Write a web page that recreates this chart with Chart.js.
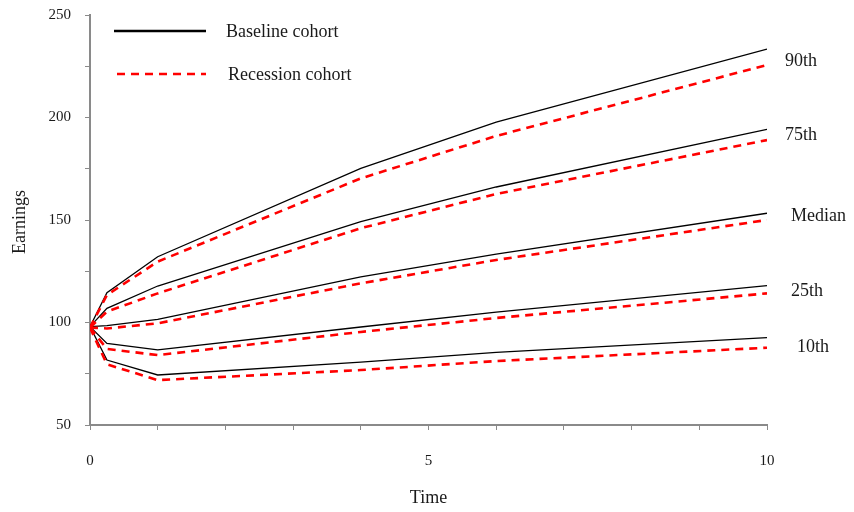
<!DOCTYPE html>
<html>
<head>
<meta charset="utf-8">
<script src="https://cdn.jsdelivr.net/npm/chart.js@4/dist/chart.umd.min.js"></script>
<style>
  html, body { margin: 0; padding: 0; background: #fff; }
  #wrap { width: 854px; height: 512px; }
</style>
</head>
<body>
<div id="wrap"><canvas id="c" width="854" height="512"></canvas></div>
<script>
// Years since labour-market entry
const times = [0, 0.25, 1, 4, 6, 10];

// Baseline cohort earnings by percentile
const base10 = [98, 81.7, 74.4, 80.7, 85.4, 92.6];
const base25 = [98, 89.8, 86.6, 97.8, 105.1, 118.0];
const base50 = [98, 98.5, 101.5, 122.3, 133.4, 153.3];
const base75 = [98, 106.9, 117.8, 149.2, 166.1, 194.2];
const base90 = [98, 114.5, 132.1, 175.2, 197.8, 233.4];

// Recession cohort earnings by percentile
const rec10 = [97.5, 79.6, 71.9, 76.8, 81.2, 87.7];
const rec25 = [97.5, 87.1, 84.1, 95.4, 102.2, 114.2];
const rec50 = [97.5, 97.1, 99.6, 119.1, 130.5, 150.0];
const rec75 = [97.5, 105.3, 114.2, 146.0, 162.7, 189.0];
const rec90 = [97.5, 113.4, 129.7, 170.3, 191.0, 225.6];

const percentileNames = ['10th', '25th', 'Median', '75th', '90th'];
const cohortNames = ['Baseline cohort', 'Recession cohort'];

const yMin = 50, yMax = 250, yMinorStep = 25, yLabelStep = 50;
const xMin = 0, xMax = 10, xMinorStep = 1, xLabelStep = 5;

const SERIF = '"Liberation Serif", "DejaVu Serif", serif';
const AXIS_GREY = '#8a8a8a';

const toPoints = vals => vals.map((v, i) => ({ x: times[i], y: v }));

const baseSeries = [base10, base25, base50, base75, base90];
const recSeries = [rec10, rec25, rec50, rec75, rec90];

const baseStyle = { borderColor: '#000', borderWidth: 1.3, borderDash: [] };
const recStyle = { borderColor: '#ff0000', borderWidth: 2.6, borderDash: [8, 6] };

const datasets = [];
baseSeries.forEach((s, i) => datasets.push(Object.assign({
  label: cohortNames[0] + ' ' + percentileNames[i],
  data: toPoints(s), pointRadius: 0, tension: 0, fill: false, order: 1
}, baseStyle)));
recSeries.forEach((s, i) => datasets.push(Object.assign({
  label: cohortNames[1] + ' ' + percentileNames[i],
  data: toPoints(s), pointRadius: 0, tension: 0, fill: false, order: 0
}, recStyle)));

// Percentile names beside the line ends, legend, and axis titles
const annotations = {
  id: 'annotations',
  afterDraw(chart) {
    const { ctx, scales: { x, y }, chartArea } = chart;
    ctx.save();
    ctx.fillStyle = '#1a1a1a';
    ctx.font = '18px ' + SERIF;
    ctx.textBaseline = 'middle';
    ctx.textAlign = 'left';
    const padX = [30, 24, 24, 18, 18];
    const padY = [5, 2, 0, 1, 4];
    const last = times.length - 1;
    percentileNames.forEach((name, i) => {
      const v = (baseSeries[i][last] + recSeries[i][last]) / 2;
      ctx.fillText(name, x.getPixelForValue(xMax) + padX[i], y.getPixelForValue(v) + padY[i]);
    });

    // legend
    const items = [
      { style: baseStyle, width: 2.6, x0: 114, y0: 31, tx: 226 },
      { style: recStyle, width: 2.6, x0: 117, y0: 74, tx: 228 }
    ];
    items.forEach((it, i) => {
      ctx.beginPath();
      ctx.strokeStyle = it.style.borderColor;
      ctx.lineWidth = it.width;
      ctx.setLineDash(it.style.borderDash);
      ctx.moveTo(it.x0, it.y0);
      ctx.lineTo(206, it.y0);
      ctx.stroke();
      ctx.setLineDash([]);
      ctx.fillText(cohortNames[i], it.tx, it.y0 + 1);
    });

    // axis titles
    ctx.textAlign = 'center';
    ctx.fillText('Time', (chartArea.left + chartArea.right) / 2, 498);
    ctx.translate(20, (chartArea.top + chartArea.bottom) / 2 + 2);
    ctx.rotate(-Math.PI / 2);
    ctx.fillText('Earnings', 0, 0);
    ctx.restore();
  }
};

new Chart(document.getElementById('c'), {
  type: 'line',
  data: { datasets },
  plugins: [annotations],
  options: {
    responsive: false,
    animation: false,
    events: [],
    layout: { padding: { top: 15, right: 87, left: 0, bottom: 0 } },
    plugins: { legend: { display: false }, tooltip: { enabled: false } },
    scales: {
      x: {
        type: 'linear', min: xMin, max: xMax,
        afterFit(scale) { scale.height = 87; },
        border: { color: AXIS_GREY, width: 2 },
        grid: { drawOnChartArea: false, drawTicks: true, tickLength: 5, color: AXIS_GREY, tickWidth: 1 },
        ticks: {
          stepSize: xMinorStep, autoSkip: false, maxRotation: 0, padding: 22,
          color: '#1a1a1a', font: { family: SERIF, size: 15 },
          callback: v => (v % xLabelStep === 0 ? String(v) : '')
        }
      },
      y: {
        min: yMin, max: yMax,
        afterFit(scale) { scale.width = 90; scale.paddingTop = 0; scale.paddingBottom = 0; },
        border: { color: AXIS_GREY, width: 2 },
        grid: { drawOnChartArea: false, drawTicks: true, tickLength: 5, color: AXIS_GREY, tickWidth: 1 },
        ticks: {
          stepSize: yMinorStep, autoSkip: false, padding: 14,
          color: '#1a1a1a', font: { family: SERIF, size: 15 },
          callback: v => (v % yLabelStep === 0 ? String(v) : '')
        }
      }
    }
  }
});
</script>
</body>
</html>
